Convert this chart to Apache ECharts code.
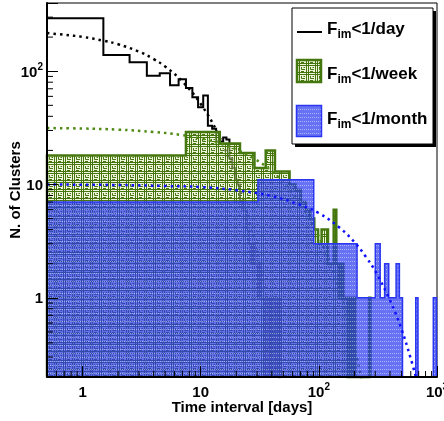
<!DOCTYPE html>
<html>
<head>
<meta charset="utf-8">
<script src="https://cdn.jsdelivr.net/npm/echarts@6/dist/echarts.min.js"></script>
<style>
  html, body { margin: 0; padding: 0; background: #fff; }
  #chart { width: 444px; height: 421px; }
</style>
</head>
<body>
<div id="chart"></div>
<script>
  // axis ranges (log x, log y)
  const xRange = [0.5, 1000]
  const yRange = [0.2, 400]

  // tick labels
  const xTickValues = [1, 10, 100, 1000]
  const xTickLabels = ['1', '10', '10^2', '10^3']
  const yTickValues = [1, 10, 100]
  const yTickLabels = ['1', '10', '10^2']
  const xMinorTicks = [0.6, 0.7, 0.8, 0.9, 2, 3, 4, 5, 6, 7, 8, 9, 20, 30, 40, 50, 60, 70, 80, 90,
    200, 300, 400, 500, 600, 700, 800, 900]
  const yMinorTicks = [0.3, 0.4, 0.5, 0.6, 0.7, 0.8, 0.9, 2, 3, 4, 5, 6, 7, 8, 9,
    20, 30, 40, 50, 60, 70, 80, 90, 200, 300]

  // F_im<1/day : 1 day bins starting at 0.5
  const dayStart = 0.5, dayWidth = 1
  const dayCounts = [293, 139, 120, 91, 96, 75, 85, 71, 59, 48,
    61, 33, 31, 24, 24, 26, 25, 17, 14, 11,
    10, 7, 6, 6, 4, 3, 2, 3, 2, 2,
    1, 2, 1, 1, 0, 1, 1, 0, 1, 0,
    1, 1, 0, 0, 1, 0, 1]

  // F_im<1/week : 7 day bins starting at 0.5
  const weekStart = 0.5, weekWidth = 7
  const weekCounts = [18, 29, 23, 19, 14, 20, 13, 13, 10, 9,
    7, 6, 5, 4, 3, 4, 4, 2, 2, 6,
    2, 1, 2, 1, 1, 0, 1, 0, 1, 0,
    0, 0, 0, 0, 0, 0, 0, 0, 1]

  // F_im<1/month : 30 day bins starting at 0.5
  const monthStart = 0.5, monthWidth = 30
  const monthCounts = [7, 11, 11, 3, 3, 3, 3, 1, 1, 1,
    3, 1, 2, 1, 1, 2, 1, 0, 0, 0,
    0, 0, 1, 0, 0, 0, 0, 0, 0, 0,
    0, 1, 1]

  // fitted curves, points
  const dayFit = [[0.5, 217], [0.7, 210], [1, 201], [1.5, 186], [2, 173], [3, 149], [4, 128], [5, 110],
    [7, 81], [10, 51.5], [14, 28], [20, 11.3], [24, 6.2], [28, 3.4], [32, 1.84], [35, 1.17],
    [40, 0.55], [44, 0.3], [47, 0.19]]
  const weekFit = [[0.5, 31.5], [1, 31.2], [2, 30.5], [4, 29.1], [7, 27.3], [10, 25.5], [14, 23.3],
    [20, 20.4], [28, 17.1], [40, 13.1], [56, 9.2], [80, 5.4], [110, 2.8], [130, 1.8], [150, 1.14],
    [175, 0.65], [200, 0.37], [230, 0.19]]
  const monthFit = [[0.5, 10], [2, 9.9], [5, 9.7], [10, 9.5], [20, 8.9], [40, 7.9], [70, 6.6],
    [100, 5.6], [150, 4.15], [200, 3.1], [250, 2.3], [300, 1.72], [400, 0.95], [500, 0.53],
    [600, 0.29], [680, 0.18]]

  const FONT = '"Liberation Sans", Arial, Helvetica, sans-serif'
  const GREEN = '#45770f'
  const BLUE = '#2b36f2'

  // ROOT like fill patterns
  function greenTile() {
    const c = document.createElement('canvas')
    c.width = 9; c.height = 9
    const g = c.getContext('2d')
    g.fillStyle = 'rgba(225, 236, 190, 0.55)'
    g.fillRect(0, 0, 9, 9)
    g.strokeStyle = '#467510'
    g.lineWidth = 1
    g.beginPath()
    // double cell borders
    g.moveTo(0.5, 0); g.lineTo(0.5, 9)
    g.moveTo(2.5, 0); g.lineTo(2.5, 9)
    g.moveTo(0, 0.5); g.lineTo(9, 0.5)
    g.moveTo(0, 2.5); g.lineTo(9, 2.5)
    // key motif
    g.moveTo(4.5, 4); g.lineTo(4.5, 6.5); g.lineTo(8, 6.5)
    g.moveTo(6.5, 4.5); g.lineTo(8, 4.5)
    g.moveTo(4, 8.5); g.lineTo(7, 8.5)
    g.stroke()
    return { image: c, repeat: 'repeat' }
  }
  function blueTile() {
    const c = document.createElement('canvas')
    c.width = 4; c.height = 4
    const g = c.getContext('2d')
    g.fillStyle = 'rgba(40, 55, 240, 0.7)'
    g.fillRect(0, 0, 4, 4)
    g.fillStyle = 'rgba(255, 255, 255, 0.45)'
    g.fillRect(0, 1, 1, 1)
    g.fillRect(2, 1, 1, 1)
    return { image: c, repeat: 'repeat' }
  }

  // one polygon per histogram, edges/values go through the axes
  function histRender(start, width, counts, fill, stroke, lw) {
    return function (params, api) {
      const base = yRange[0]
      const pts = [api.coord([start, base])]
      counts.forEach(function (c, i) {
        const v = c > 0 ? c : base
        const lo = start + i * width
        const hi = Math.min(start + (i + 1) * width, xRange[1])
        pts.push(api.coord([lo, v]), api.coord([hi, v]))
      })
      pts.push(api.coord([Math.min(start + counts.length * width, xRange[1]), base]))
      const children = []
      if (fill) {
        children.push({ type: 'polygon', shape: { points: pts }, style: { fill: fill, stroke: null } })
      }
      children.push({ type: 'polyline', shape: { points: pts }, style: { fill: null, stroke: stroke, lineWidth: lw } })
      return { type: 'group', children: children }
    }
  }

  function tickLabel(values, labels) {
    return function (v) {
      for (let i = 0; i < values.length; i++) {
        if (Math.abs(v - values[i]) / values[i] < 1e-6) {
          const parts = labels[i].split('^')
          return parts.length > 1 ? '{b|' + parts[0] + '}{s|' + parts[1] + '}' : '{b|' + parts[0] + '}'
        }
      }
      return ''
    }
  }

  const labelRich = {
    b: { fontSize: 15, fontWeight: 'bold', fontFamily: FONT, color: '#000', lineHeight: 18, verticalAlign: 'bottom' },
    s: { fontSize: 10, fontWeight: 'bold', fontFamily: FONT, color: '#000', lineHeight: 10, verticalAlign: 'top' }
  }
  const legendRich = {
    m: { fontSize: 17, fontWeight: 'bold', fontFamily: FONT, color: '#000', lineHeight: 17, verticalAlign: 'top' },
    s: { fontSize: 12, fontWeight: 'bold', fontFamily: FONT, color: '#000', lineHeight: 20, verticalAlign: 'bottom' }
  }

  function fitSeries(data, color, z) {
    return {
      type: 'line', data: data, z: z, smooth: 0.4, showSymbol: false, silent: true,
      lineStyle: { color: color, width: 2.5, type: [2.5, 4], cap: 'butt' }
    }
  }

  const chart = echarts.init(document.getElementById('chart'), null, { renderer: 'canvas' })
  chart.setOption({
    animation: false,
    backgroundColor: '#fff',
    grid: {
      left: 47, right: 7, top: 3, bottom: 44,
      show: true, borderColor: '#000', borderWidth: 1,
      outerBoundsMode: 'none'
    },
    xAxis: {
      type: 'log', min: xRange[0], max: xRange[1], z: 10,
      name: 'Time interval [days]', nameLocation: 'middle', nameGap: 23, nameMoveOverlap: false,
      nameTextStyle: { fontSize: 15, fontWeight: 'bold', fontFamily: FONT, color: '#000' },
      axisLine: { lineStyle: { color: '#000', width: 2 } },
      axisTick: { inside: true, length: 11, lineStyle: { color: '#000', width: 1 } },
      axisLabel: { margin: 5, formatter: tickLabel(xTickValues, xTickLabels), rich: labelRich },
      splitLine: { show: false }
    },
    yAxis: {
      type: 'log', min: yRange[0], max: yRange[1], z: 10,
      name: 'N. of Clusters', nameLocation: 'middle', nameGap: 24, nameMoveOverlap: false,
      nameTextStyle: { fontSize: 15, fontWeight: 'bold', fontFamily: FONT, color: '#000' },
      axisLine: { lineStyle: { color: '#000', width: 2 } },
      axisTick: { inside: true, length: 11, lineStyle: { color: '#000', width: 1 } },
      axisLabel: { margin: 4, formatter: tickLabel(yTickValues, yTickLabels), rich: labelRich },
      splitLine: { show: false }
    },
    series: [
      {
        type: 'custom', z: 2, silent: true, data: [[dayStart, yRange[0]]],
        renderItem: histRender(dayStart, dayWidth, dayCounts, null, '#000', 2)
      },
      fitSeries(dayFit, '#000', 3),
      {
        type: 'custom', z: 4, silent: true, data: [[weekStart, yRange[0]]],
        renderItem: histRender(weekStart, weekWidth, weekCounts, greenTile(), GREEN, 2.5)
      },
      fitSeries(weekFit, '#4f8a14', 5),
      {
        type: 'custom', z: 6, silent: true, data: [[monthStart, yRange[0]]],
        renderItem: histRender(monthStart, monthWidth, monthCounts, blueTile(), BLUE, 1.5)
      },
      fitSeries(monthFit, '#1010ff', 7),
      {
        type: 'custom', z: 12, silent: true,
        data: xMinorTicks.map(function (v) { return [v, yRange[0]] }),
        renderItem: function (params, api) {
          const p = api.coord([api.value(0), yRange[0]])
          return { type: 'line', shape: { x1: p[0], y1: p[1], x2: p[0], y2: p[1] - 6 }, style: { stroke: '#000', lineWidth: 1 } }
        }
      },
      {
        type: 'custom', z: 12, silent: true,
        data: yMinorTicks.map(function (v) { return [xRange[0], v] }),
        renderItem: function (params, api) {
          const p = api.coord([xRange[0], api.value(1)])
          return { type: 'line', shape: { x1: p[0], y1: p[1], x2: p[0] + 6, y2: p[1] }, style: { stroke: '#000', lineWidth: 1 } }
        }
      }
    ],
    graphic: [
      { type: 'rect', z: 100, shape: { x: 295, y: 11, width: 141, height: 136 }, style: { fill: '#000' } },
      { type: 'rect', z: 101, shape: { x: 292, y: 8, width: 141, height: 136 }, style: { fill: '#fff', stroke: '#000', lineWidth: 1 } },
      { type: 'line', z: 102, shape: { x1: 297, y1: 32, x2: 322, y2: 32 }, style: { stroke: '#000', lineWidth: 2 } },
      { type: 'text', z: 102, x: 327, y: 21, style: { text: '{m|F}{s|im}{m|<1/day}', rich: legendRich, verticalAlign: 'top' } },
      { type: 'rect', z: 102, shape: { x: 297, y: 60, width: 24, height: 22 }, style: { fill: greenTile(), stroke: GREEN, lineWidth: 2.5 } },
      { type: 'text', z: 102, x: 327, y: 65.5, style: { text: '{m|F}{s|im}{m|<1/week}', rich: legendRich, verticalAlign: 'top' } },
      { type: 'rect', z: 102, shape: { x: 296.5, y: 105.5, width: 25, height: 31 }, style: { fill: blueTile(), stroke: BLUE, lineWidth: 1.5 } },
      { type: 'text', z: 102, x: 327, y: 110.5, style: { text: '{m|F}{s|im}{m|<1/month}', rich: legendRich, verticalAlign: 'top' } }
    ]
  })
</script>
</body>
</html>
